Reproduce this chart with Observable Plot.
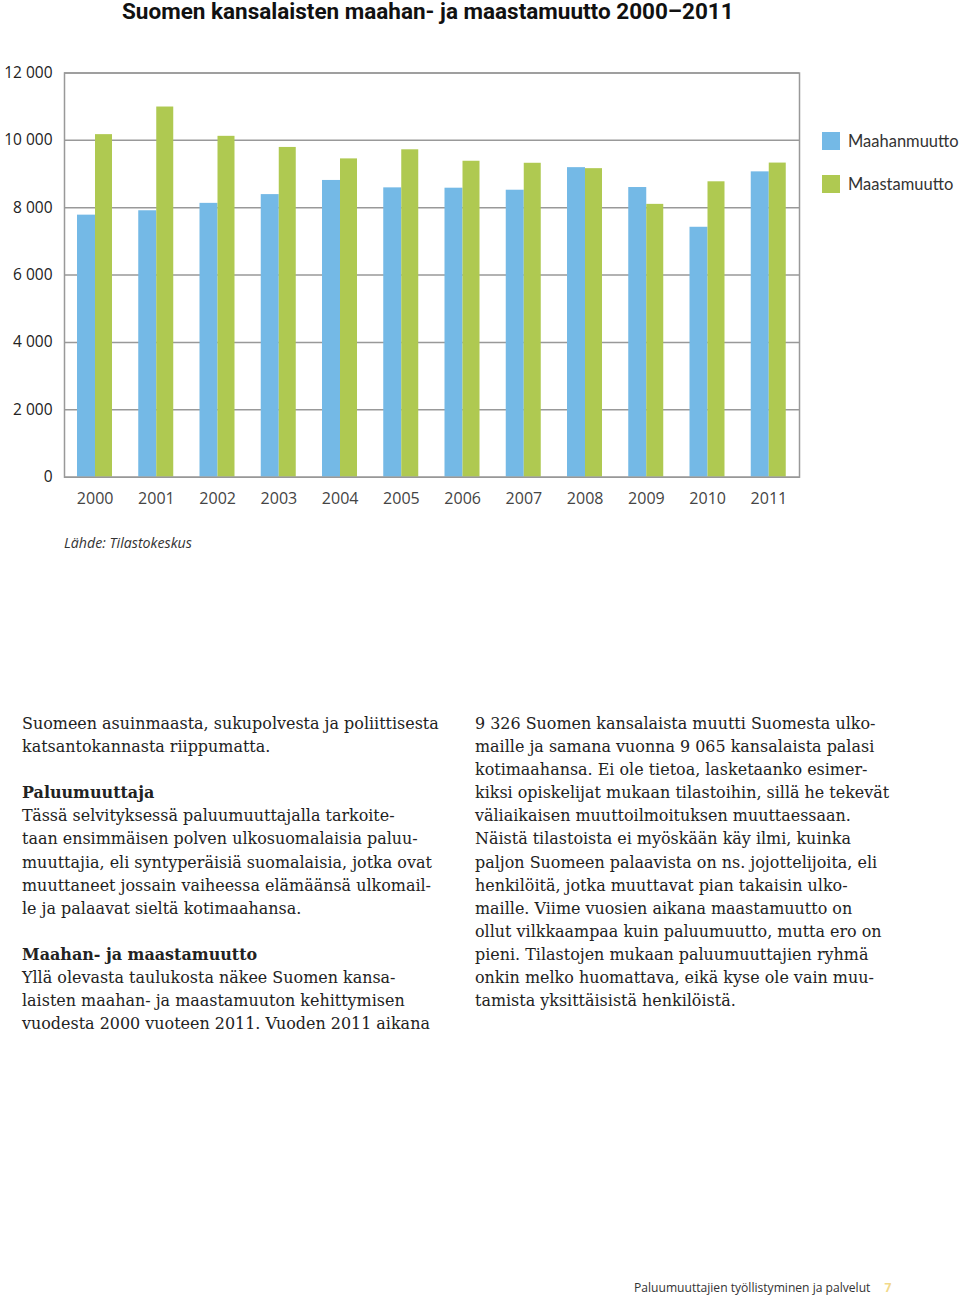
<!DOCTYPE html>
<html>
<head>
<meta charset="utf-8">
<script src="https://cdn.jsdelivr.net/npm/d3@7"></script>
<script src="https://cdn.jsdelivr.net/npm/@observablehq/plot@0.6"></script>
<style>
  html, body { margin: 0; padding: 0; background: #fff; }
  body { width: 960px; height: 1300px; position: relative; overflow: hidden; }
  .abs { position: absolute; white-space: nowrap; }
  #title { left: 122px; top: 0px; font: 700 22.5px/23px Roboto, sans-serif; color: #111; }
  #chart { position: absolute; left: 0; top: 0; }
  #chart svg g[aria-label^="x-axis"] text { fill: #444; font-size: 16px; }
  #chart svg g[aria-label^="y-axis"] text { fill: #222; font-size: 15.5px; }
  #legend { left: 822px; top: 131px; font: 400 16.5px Lato, sans-serif; color: #333; }
  .lg { display: flex; align-items: center; height: 19px; margin-bottom: 24px; }
  .sw { width: 18px; height: 18px; margin-right: 8px; }
  #caption { left: 64px; top: 533px; font: italic 400 14.2px "Open Sans", sans-serif; color: #333; }
  .col { font: 400 15.95px/23.1px "DejaVu Serif", serif; color: #222; top: 712px; }
  .col b { font-weight: 700; }
  #footer { left: 634px; top: 1279px; font: 400 12.1px "Open Sans", sans-serif; color: #333; }
  #footer span { color: #f2d98a; margin-left: 14px; font-weight: 700; }
</style>
</head>
<body>
<div id="title" class="abs">Suomen kansalaisten maahan- ja maastamuutto 2000–2011</div>
<div id="chart"></div>
<div id="legend" class="abs"></div>
<div id="caption" class="abs">Lähde: Tilastokeskus</div>
<div class="abs col" style="left:22px">Suomeen asuinmaasta, sukupolvesta ja poliittisesta<br>katsantokannasta riippumatta.<br><br><b>Paluumuuttaja</b><br>Tässä selvityksessä paluumuuttajalla tarkoite-<br>taan ensimmäisen polven ulkosuomalaisia paluu-<br>muuttajia, eli syntyperäisiä suomalaisia, jotka ovat<br>muuttaneet jossain vaiheessa elämäänsä ulkomail-<br>le ja palaavat sieltä kotimaahansa.<br><br><b>Maahan- ja maastamuutto</b><br>Yllä olevasta taulukosta näkee Suomen kansa-<br>laisten maahan- ja maastamuuton kehittymisen<br>vuodesta 2000 vuoteen 2011. Vuoden 2011 aikana</div>
<div class="abs col" style="left:475px">9 326 Suomen kansalaista muutti Suomesta ulko-<br>maille ja samana vuonna 9 065 kansalaista palasi<br>kotimaahansa. Ei ole tietoa, lasketaanko esimer-<br>kiksi opiskelijat mukaan tilastoihin, sillä he tekevät<br>väliaikaisen muuttoilmoituksen muuttaessaan.<br>Näistä tilastoista ei myöskään käy ilmi, kuinka<br>paljon Suomeen palaavista on ns. jojottelijoita, eli<br>henkilöitä, jotka muuttavat pian takaisin ulko-<br>maille. Viime vuosien aikana maastamuutto on<br>ollut vilkkaampaa kuin paluumuutto, mutta ero on<br>pieni. Tilastojen mukaan paluumuuttajien ryhmä<br>onkin melko huomattava, eikä kyse ole vain muu-<br>tamista yksittäisistä henkilöistä.</div>
<div id="footer" class="abs">Paluumuuttajien työllistyminen ja palvelut<span>7</span></div>
<script>
// ---- data ----
const years = ["2000","2001","2002","2003","2004","2005","2006","2007","2008","2009","2010","2011"];
const maahanmuutto = [7780, 7910, 8130, 8390, 8810, 8590, 8580, 8520, 9190, 8600, 7420, 9065];
const maastamuutto = [10170, 10990, 10120, 9790, 9450, 9720, 9380, 9320, 9160, 8100, 8770, 9326];
const seriesNames = ["Maahanmuutto", "Maastamuutto"];
const seriesColors = ["#74b9e6", "#afc951"];
const yTicks = [0, 2000, 4000, 6000, 8000, 10000, 12000];

const table = years.map((year, i) => ({year, inn: maahanmuutto[i], out: maastamuutto[i]}));
const fmt = d => d3.format(",")(d).replace(/,/g, " ");

const chart = Plot.plot({
  width: 960,
  height: 520,
  marginLeft: 64,
  marginRight: 161,
  marginTop: 72.5,
  marginBottom: 43.3,
  style: {fontFamily: "Open Sans, sans-serif", fontSize: "15px", color: "#222", background: "transparent", overflow: "visible"},
  x: {domain: years, padding: 0, round: false, label: null, tickSize: 0, tickPadding: 15},
  y: {domain: [0, 12000], ticks: yTicks, tickFormat: fmt, label: null, tickSize: 0, tickPadding: 12},
  marks: [
    Plot.ruleY(yTicks, {stroke: "#999", strokeWidth: 1.5}),
    Plot.barY(table, {x: "year", y: "inn", fill: seriesColors[0], insetLeft: 13, insetRight: 30.25}),
    Plot.barY(table, {x: "year", y: "out", fill: seriesColors[1], insetLeft: 31, insetRight: 13.25}),
    Plot.frame({stroke: "#999", strokeWidth: 1.5})
  ]
});
document.getElementById("chart").appendChild(chart);

const legend = document.getElementById("legend");
seriesNames.forEach((name, i) => {
  const row = document.createElement("div");
  row.className = "lg";
  const sw = document.createElement("div");
  sw.className = "sw";
  sw.style.background = seriesColors[i];
  const tx = document.createElement("span");
  tx.textContent = name;
  row.appendChild(sw);
  row.appendChild(tx);
  legend.appendChild(row);
});
</script>
</body>
</html>
